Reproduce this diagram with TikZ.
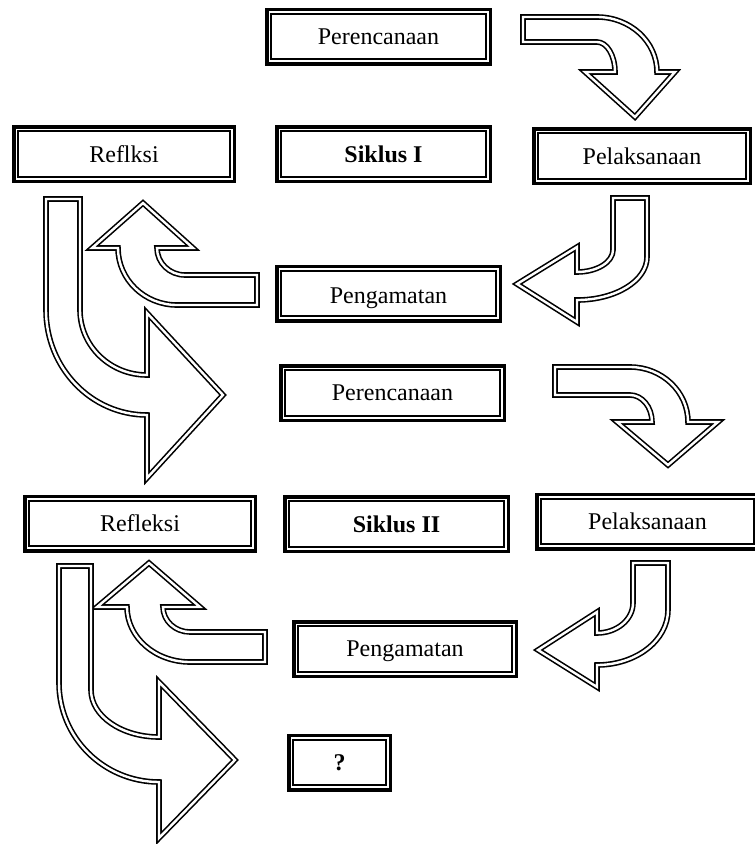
\documentclass[tikz,border=0pt]{standalone}
\usepackage{fontspec}
\setmainfont{Liberation Serif}
\usetikzlibrary{
    calc
}
\tikzset{
    kotak/.style={draw, line width=3.5pt, outer sep=0pt, inner sep=0pt,
        minimum width=#1, minimum height=54.5pt,
        font=\fontsize{24}{28}\selectfont},
    dalam/.style={line width=2pt},
    panah/.style={draw, double, line width=1.6pt, double distance=2.4pt, line join=miter}
}

\begin{document}
\begin{tikzpicture}[x=1pt, y=1pt]
\useasboundingbox (0, 0) rectangle (755, -844);
\clip (0, 0) rectangle (755, -844);
% siklus I
\node[kotak=223.5] (rc1) at (378.5, -36.5) {Perencanaan};
\node[kotak=220.5] (rf1) at (124, -154) {Reflksi};
\node[kotak=213.5] (sk1) at (383.5, -154) {\textbf{Siklus I}};
\node[kotak=216.5] (lk1) at (642, -156) {Pelaksanaan};
\node[kotak=223.5] (pg1) at (388.5, -293.5) {\raisebox{-9.5pt}[0pt][0pt]{Pengamatan}};
% siklus II
\node[kotak=223.5] (rc2) at (392.5, -393) {Perencanaan};
\node[kotak=230.5] (rf2) at (140, -523.5) {Refleksi};
\node[kotak=223.5] (sk2) at (396.5, -524) {\textbf{Siklus II}};
\node[kotak=221.5] (lk2) at (647.5, -521.5) {Pelaksanaan};
\node[kotak=222.5] (pg2) at (405, -649) {\raisebox{-7.5pt}[0pt][0pt]{Pengamatan}};
\node[kotak=101.5] (qq) at (339.5, -762.5) {\textbf{?}};
\foreach \n in {rc1, rf1, sk1, lk1, pg1, rc2, rf2, sk2, lk2, pg2, qq}
    \draw[dalam] ($(\n.north west)+(4.5, -4.5)$) rectangle ($(\n.south east)+(-4.5, 4.5)$);
% panah siklus I
\draw[panah] (523, -17) -- (597, -17) arc[start angle=90, end angle=0, x radius=60, y radius=55]
    -- (675, -72) -- (635, -117) -- (585, -72) -- (615, -72)
    arc[start angle=0, end angle=90, x radius=18, y radius=30] -- (523, -42) -- cycle;
\draw[panah] (647, -198) -- (647, -257) arc[start angle=0, end angle=-90, x radius=70, y radius=43]
    -- (577, -322) -- (517, -284) -- (577, -247) -- (577, -272)
    arc[start angle=-90, end angle=0, x radius=36, y radius=22] -- (613, -198) -- cycle;
\draw[panah] (257, -275) -- (185, -275) arc[start angle=-90, end angle=-180, x radius=28, y radius=27]
    -- (193, -248) -- (143, -203) -- (92, -248) -- (118, -248)
    arc[start angle=180, end angle=270, x radius=59, y radius=57] -- (257, -305) -- cycle;
\draw[panah] (46, -199) -- (46, -310) arc[start angle=180, end angle=270, x radius=101, y radius=105]
    -- (147, -478) -- (223, -395) -- (147, -313) -- (147, -375)
    arc[start angle=270, end angle=180, x radius=67, y radius=65] -- (80, -199) -- cycle;
% panah siklus II
\draw[panah] (555, -367) -- (630, -367) arc[start angle=90, end angle=0, x radius=58, y radius=55]
    -- (718, -422) -- (668, -465) -- (617, -422) -- (652, -422)
    arc[start angle=0, end angle=90, x radius=22, y radius=27] -- (555, -395) -- cycle;
\draw[panah] (668, -563) -- (668, -610) arc[start angle=0, end angle=-90, x radius=71, y radius=55]
    -- (597, -687) -- (538, -650) -- (597, -612) -- (597, -633)
    arc[start angle=-90, end angle=0, x radius=36, y radius=30] -- (633, -563) -- cycle;
\draw[panah] (265, -632) -- (190, -632) arc[start angle=-90, end angle=-180, x radius=27, y radius=25]
    -- (200, -607) -- (149, -563) -- (97, -607) -- (127, -607)
    arc[start angle=180, end angle=270, x radius=63, y radius=55] -- (265, -662) -- cycle;
\draw[panah] (59, -566) -- (59, -683) arc[start angle=180, end angle=270, x radius=100, y radius=99]
    -- (159, -838) -- (235, -760) -- (159, -682) -- (159, -737)
    arc[start angle=270, end angle=180, x radius=68, y radius=47] -- (91, -566) -- cycle;
\end{tikzpicture}
\end{document}
